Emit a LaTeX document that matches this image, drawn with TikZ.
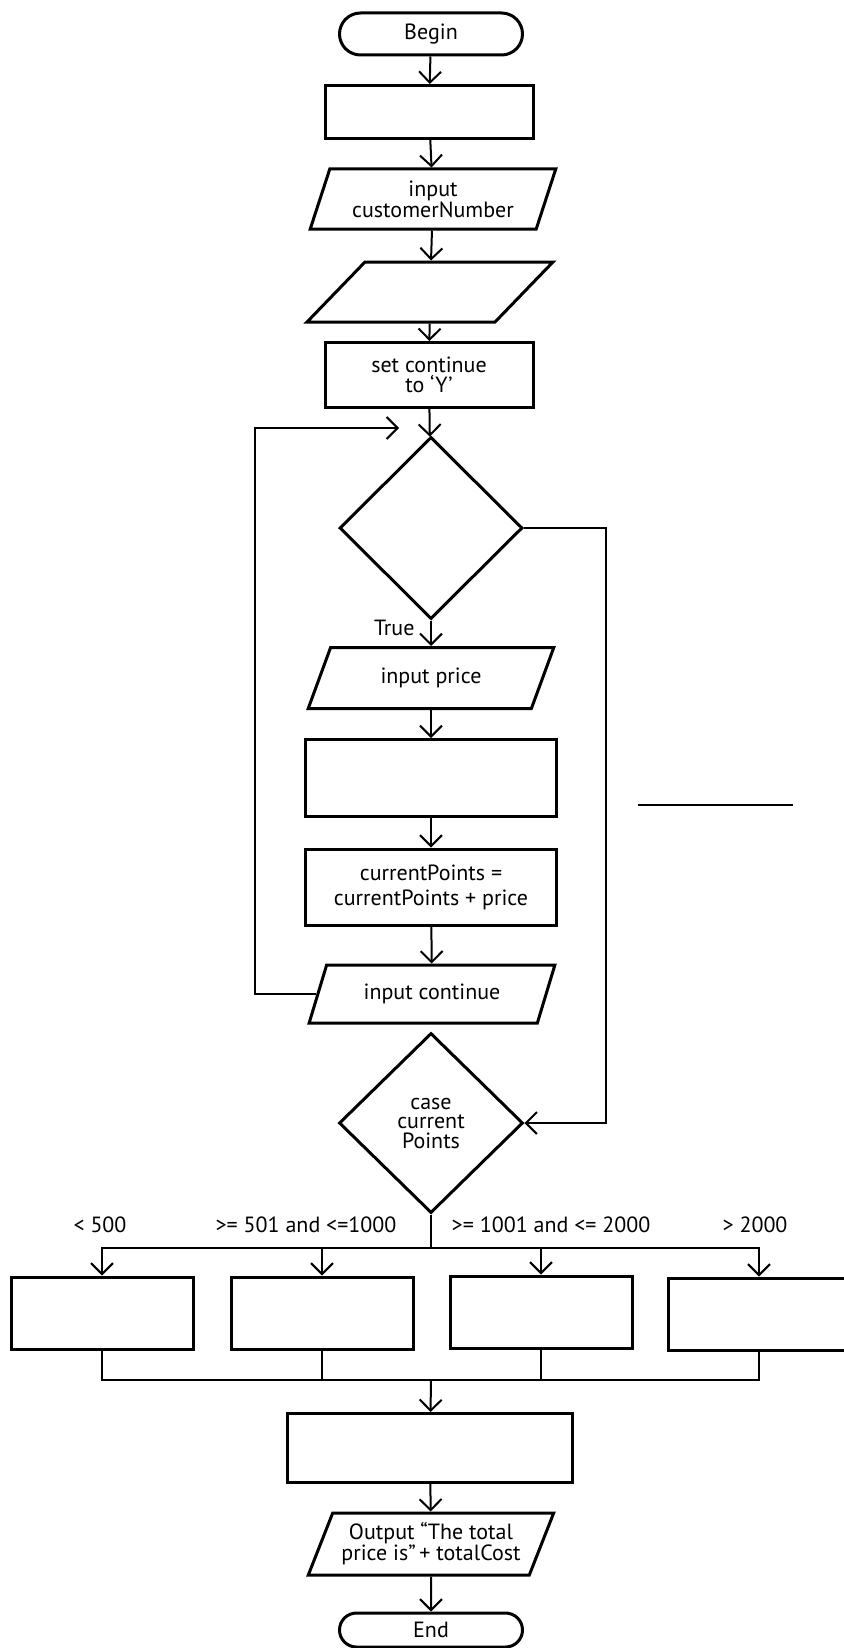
\documentclass[tikz,border=0pt]{standalone}
\usepackage{fontspec}
\setmainfont{PT Sans}
\usetikzlibrary{shapes.geometric,arrows.meta}

\tikzset{
  base/.style={draw, line width=3pt, align=center, font=\fontsize{22}{19.5}\selectfont, inner sep=2pt},
  terminal/.style={base, rectangle, rounded corners=17pt, minimum width=183pt, minimum height=42pt},
  process/.style={base, rectangle},
  io/.style={base, trapezium, trapezium left angle=64, trapezium right angle=116,
    trapezium stretches=true, minimum width=246pt, minimum height=60pt},
  decision/.style={base, diamond, minimum width=183pt, minimum height=182pt, inner sep=0pt},
  flow/.style={line width=2pt, ->},
  caselabel/.style={font=\fontsize{22}{19.5}\selectfont},
}

\begin{document}
\begin{tikzpicture}[x=1pt, y=-1pt, >={Straight Barb[length=11pt,width=22pt]}]

    \useasboundingbox (0,0) rectangle (843,1648);

    % main column
    \node[terminal, rounded corners=21pt] (begin) at (431,34) {Begin};
    \node[process, minimum width=208pt, minimum height=53pt] (init) at (429,112) {};
    \node[io, trapezium left angle=69, trapezium right angle=111] (inCust) at (433,199) {input\\customerNumber};
    \node[io, trapezium left angle=66, trapezium right angle=114] (inBlank) at (430,292) {};
    \node[process, minimum width=208pt, minimum height=65pt] (setCont) at (429,375) {set continue\\to ‘Y’};
    \node[decision] (dec1) at (431,528) {};
    \coordinate (loopend) at (399,428);

    \node[io, minimum height=61pt] (inPrice) at (431,678) {input price};
    \node[process, minimum width=251pt, minimum height=77pt] (blank) at (431,778) {};
    \node[process, minimum width=251pt, minimum height=76pt] (curPts) at (431,887) {currentPoints =\\[5.5pt]currentPoints + price};
    \node[io, minimum height=58pt] (inCont) at (432,994) {input continue};
    \node[decision, minimum width=184pt, minimum height=180pt] (dec2) at (431,1123) {case\\current\\Points};

    % case branches
    \coordinate (split) at (431,1248);
    \coordinate (merge) at (431,1380);
    \node[process, minimum width=182pt, minimum height=72pt] (c1) at (102,1313) {};
    \node[process, minimum width=182pt, minimum height=72pt] (c2) at (322,1313) {};
    \node[process, minimum width=182pt, minimum height=72pt] (c3) at (541,1312) {};
    \node[process, minimum width=182pt, minimum height=72pt] (c4) at (759,1314) {};
    \node[caselabel] (l1) at (100,1225) {< 500};
    \node[caselabel] (l2) at (306,1225) {>= 501 and <=1000};
    \node[caselabel] (l3) at (551,1225) {>= 1001 and <= 2000};
    \node[caselabel] (l4) at (755,1225) {> 2000};

    \node[process, minimum width=285pt, minimum height=69pt] (final) at (430,1448) {};
    \node[io, minimum height=62pt] (output) at (431,1544) {Output “The total\\price is”\,+ totalCost};
    \node[terminal, minimum height=34pt] (end) at (431,1630) {End};

    \node[caselabel, anchor=east] (truelbl) at (418,628) {True};

    % connectors
    \draw[flow] (begin) -- (init);
    \draw[flow] (init) -- (inCust);
    \draw[flow] (inCust) -- (inBlank);
    \draw[flow] (inBlank) -- (setCont);
    \draw[flow] (setCont) -- (dec1);
    \draw[flow] (dec1) -- (inPrice);
    \draw[flow] (inPrice) -- (blank);
    \draw[flow] (blank) -- (curPts);
    \draw[flow] (curPts) -- (inCont);
    \draw[flow] (inCont.west) -- ++(-61,0) |- (loopend);
    \draw[flow] (dec1.east) -- ++(82,0) |- (dec2.east);

    \draw[line width=2pt] (dec2.south) -- (split);
    \foreach \c in {c1,c2,c3,c4}
        \draw[flow] (split) -| (\c.north);
    \foreach \c in {c1,c2,c3,c4}
        \draw[line width=2pt] (\c.south) |- (merge);
    \draw[flow] (merge) -- (final);
    \draw[flow] (final) -- (output);
    \draw[flow] (output) -- (end);

    \draw[line width=1.5pt] (638,805) -- (793,805);
\end{tikzpicture}
\end{document}
